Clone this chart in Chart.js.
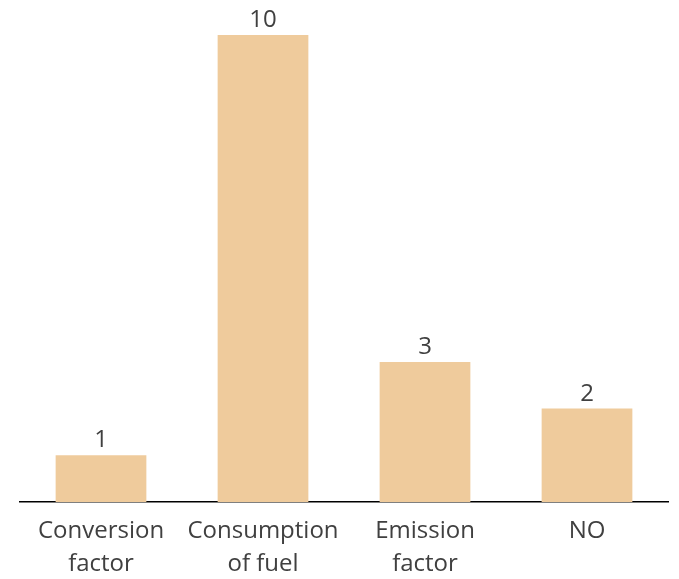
<!DOCTYPE html>
<html>
<head>
<meta charset="utf-8">
<script src="https://cdn.jsdelivr.net/npm/chart.js@4"></script>
<style>
  html, body { margin: 0; padding: 0; background: #fff; }
  #wrap { width: 679px; height: 579px; }
</style>
</head>
<body>
<div id="wrap"><canvas id="c" width="679" height="579"></canvas></div>
<script>
const categories = [["Conversion", "factor"], ["Consumption", "of fuel"], ["Emission", "factor"], ["NO"]];
const counts = [1, 10, 3, 2];

const FONT = '"Open Sans", "Noto Sans", sans-serif';
const TEXT = '#404040';

// Writes each bar's value just above it
const valueLabels = {
  id: 'valueLabels',
  afterDatasetsDraw(chart) {
    const ctx = chart.ctx;
    const meta = chart.getDatasetMeta(0);
    ctx.save();
    ctx.font = '24px ' + FONT;
    ctx.fillStyle = TEXT;
    ctx.textAlign = 'center';
    ctx.textBaseline = 'alphabetic';
    meta.data.forEach((bar, i) => {
      ctx.fillText(String(counts[i]), bar.x, bar.y - 8);
    });
    ctx.restore();
  }
};

new Chart(document.getElementById('c'), {
  type: 'bar',
  data: {
    labels: categories,
    datasets: [{
      data: counts,
      backgroundColor: '#EFCB9C',
      borderWidth: 0,
      categoryPercentage: 1,
      barPercentage: 0.56
    }]
  },
  options: {
    responsive: false,
    animation: false,
    layout: { padding: { top: 35, left: 20, right: 11, bottom: 0 } },
    plugins: { legend: { display: false }, tooltip: { enabled: false } },
    scales: {
      x: {
        grid: { display: false },
        border: { display: true, color: '#000', width: 1.5 },
        ticks: {
          color: TEXT,
          font: { family: FONT, size: 24, lineHeight: 1.4 },
          padding: 4,
          maxRotation: 0,
          autoSkip: false
        },
        afterFit(scale) { scale.height = 77; }
      },
      y: {
        display: false,
        min: 0,
        max: 10
      }
    }
  },
  plugins: [valueLabels]
});
</script>
</body>
</html>
